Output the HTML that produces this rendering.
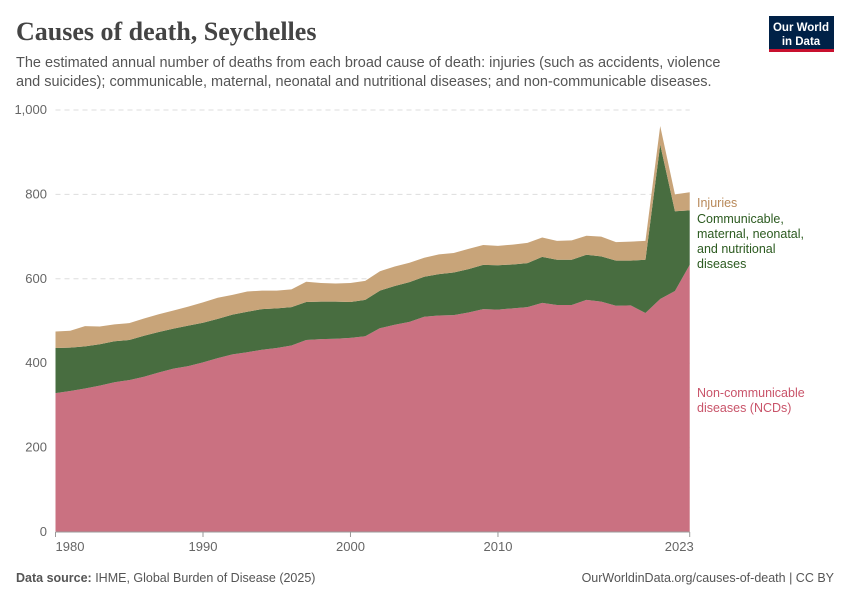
<!DOCTYPE html>
<html><head><meta charset="utf-8"><style>
body{margin:0;background:#fff;font-family:"Liberation Sans",sans-serif}
svg text{font-family:"Liberation Sans",sans-serif}
</style></head><body>
<svg id="c" width="850" height="600">
<text x="16" y="40" font-size="26" font-weight="bold" fill="#444" style="font-family:'Liberation Serif',serif">Causes of death, Seychelles</text>
<text x="16" y="67" font-size="14.5" fill="#555">The estimated annual number of deaths from each broad cause of death: injuries (such as accidents, violence</text>
<text x="16" y="86" font-size="14.5" fill="#555">and suicides); communicable, maternal, neonatal and nutritional diseases; and non-communicable diseases.</text>
<g>
<rect x="769" y="16" width="65" height="36" fill="#002147"/>
<rect x="769" y="49" width="65" height="3" fill="#c8102e"/>
<text x="801" y="31" font-size="11.5" fill="#fff" text-anchor="middle" font-weight="bold">Our World</text>
<text x="801" y="45" font-size="11.5" fill="#fff" text-anchor="middle" font-weight="bold">in Data</text>
</g>
<g id="grid"></g>
<g id="areas"></g>
<g id="axes"></g>
<g font-size="12.5">
<text x="697" y="207" fill="#b8895a">Injuries</text>
<text x="697" y="223" fill="#2b5a1f"><tspan x="697">Communicable,</tspan><tspan x="697" dy="15">maternal, neonatal,</tspan><tspan x="697" dy="15">and nutritional</tspan><tspan x="697" dy="15">diseases</tspan></text>
<text x="697" y="397" fill="#c9546a"><tspan x="697">Non-communicable</tspan><tspan x="697" dy="15">diseases (NCDs)</tspan></text>
</g>
<text x="16" y="582" font-size="12.5" fill="#555"><tspan font-weight="bold">Data source:</tspan> IHME, Global Burden of Disease (2025)</text>
<text x="834" y="582" font-size="12.5" fill="#555" text-anchor="end">OurWorldinData.org/causes-of-death | CC BY</text>
</svg>
<script>
const years=[];for(let y=1980;y<=2023;y++)years.push(y);
const ncd=[329,334,340,347,355,360,368,378,387,393,402,412,421,426,432,436,442,455,457,458,460,464,483,491,498,510,513,514,520,528,527,530,533,543,538,538,550,546,536,537,519,552,571,633];
const comm=[107,103,100,98,97,95,97,96,95,96,94,93,94,96,96,94,91,90,89,88,85,86,89,92,94,95,98,101,103,105,105,104,104,109,107,107,107,107,107,106,126,366,189,129];
const inj=[39,40,48,42,40,40,41,42,43,45,48,50,47,48,44,42,42,48,44,43,45,45,46,46,46,45,47,46,48,47,46,47,48,46,45,46,45,47,44,45,45,44,40,43];
const yTicks=[0,200,400,600,800,1000];
const xTicks=[1980,1990,2000,2010,2023];
const NS='http://www.w3.org/2000/svg';
const X0=55.5,X1=689.7,Y0=532,Y1=110;
const xs=y=>X0+(y-1980)/(2023-1980)*(X1-X0);
const ys=v=>Y0-v/1000*(Y0-Y1);
function mk(t,a,p){const e=document.createElementNS(NS,t);for(const k in a)e.setAttribute(k,a[k]);p.appendChild(e);return e;}
const grid=document.getElementById('grid'),axes=document.getElementById('axes'),areas=document.getElementById('areas');
yTicks.forEach(v=>{
 if(v>0){const l=mk('line',{x1:X0,x2:X1,y1:ys(v),y2:ys(v),stroke:'#ddd','stroke-dasharray':'5,4'},grid);
 
 }
 const t=mk('text',{x:47,y:ys(v)+4,'text-anchor':'end','font-size':13,fill:'#666'},axes);
 t.textContent=v.toLocaleString('en-US');
 
 
});
const base=mk('line',{x1:X0,x2:X1,y1:Y0,y2:Y0,stroke:'#999'},axes);


xTicks.forEach(y=>{
 mk('line',{x1:xs(y),x2:xs(y),y1:Y0,y2:Y0+5,stroke:'#999'},axes);
 const anchor=y===1980?'start':(y===2023?'end':'middle');
 const tx=y===1980?X0:(y===2023?X1+4:xs(y));
 const t=mk('text',{x:tx,y:Y0+19,'text-anchor':anchor,'font-size':13,fill:'#666'},axes);
 t.textContent=y;
 
 
});
function band(lo,hi,color,name){
 let d='M'+years.map((y,i)=>xs(y)+','+ys(hi[i])).join('L');
 for(let i=years.length-1;i>=0;i--)d+='L'+xs(years[i])+','+ys(lo[i]);
 const p=mk('path',{d:d+'Z',fill:color},areas);
 
 
}
const zero=ncd.map(()=>0);
const s1=ncd.slice();
const s2=ncd.map((v,i)=>v+comm[i]);
const s3=s2.map((v,i)=>v+inj[i]);
band(zero,s1,'#ca7181','area-ncd');
band(s1,s2,'#486d40','area-communicable');
band(s2,s3,'#c8a479','area-injuries');
</script>
</body></html>
